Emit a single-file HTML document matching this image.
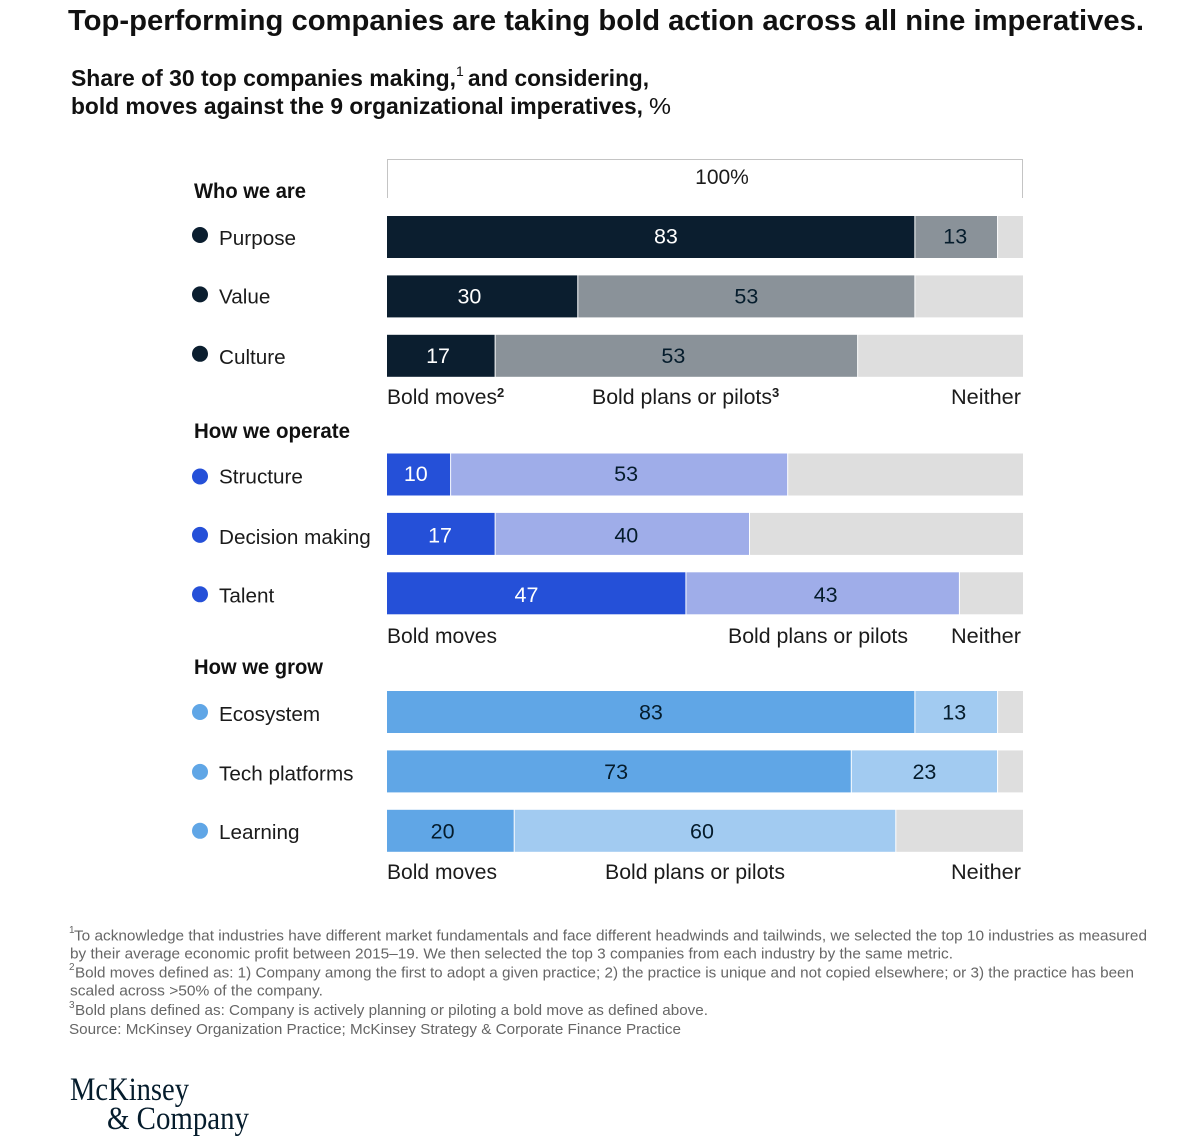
<!DOCTYPE html>
<html lang="en">
<head>
<meta charset="utf-8">
<title>Top-performing companies</title>
<style>
html,body{margin:0;padding:0;background:#fff;}
svg{display:block;font-family:"Liberation Sans",sans-serif;}
.t{fill:#111;}
.h{font-weight:700;font-size:21px;fill:#111;}
.l{font-size:20.7px;fill:#1b1b1b;}
.lg{font-size:21px;fill:#1b1b1b;}
.sup{font-size:13px;fill:#1b1b1b;}
.n{font-size:15px;fill:#666;}
.s{font-size:10px;fill:#666;}
.logo{font-family:"Liberation Serif",serif;font-size:33px;fill:#051c2c;}
</style>
</head>
<body>
<svg id="chart" width="1200" height="1141" viewBox="0 0 1200 1141" xmlns="http://www.w3.org/2000/svg">
  <rect width="1200" height="1141" fill="#fff"/>
  <text class="t" x="68" y="30" font-size="29" font-weight="700" textLength="1076" lengthAdjust="spacingAndGlyphs">Top-performing companies are taking bold action across all nine imperatives.</text>

  <g class="t">
    <text x="71" y="86" font-size="23" font-weight="700" textLength="385" lengthAdjust="spacingAndGlyphs">Share of 30 top companies making,</text>
    <text x="456" y="76" font-size="14">1</text>
    <text x="468" y="86" font-size="23" font-weight="700" textLength="181" lengthAdjust="spacingAndGlyphs">and considering,</text>
    <text x="71" y="114" font-size="23" font-weight="700" textLength="572" lengthAdjust="spacingAndGlyphs">bold moves against the 9 organizational imperatives,</text>
    <text x="649" y="114" font-size="23" textLength="22" lengthAdjust="spacingAndGlyphs">%</text>
  </g>

  <g>
    <path d="M387.5 198V159.5H1022.5V198" fill="none" stroke="#c4c4c4" stroke-width="1"/>
    <text class="lg" x="722" y="184" text-anchor="middle" font-size="22">100%</text>
  </g>

  <text class="h" x="194" y="198" textLength="112" lengthAdjust="spacingAndGlyphs">Who we are</text>
  <text class="h" x="194" y="438" textLength="156" lengthAdjust="spacingAndGlyphs">How we operate</text>
  <text class="h" x="194" y="674" textLength="129" lengthAdjust="spacingAndGlyphs">How we grow</text>

  <g id="rows"></g>

  <g>
    <text class="lg" x="387" y="404" textLength="110" lengthAdjust="spacingAndGlyphs">Bold moves</text>
    <text class="sup" x="497" y="397" font-weight="700">2</text>
    <text class="lg" x="592" y="404" textLength="180" lengthAdjust="spacingAndGlyphs">Bold plans or pilots</text>
    <text class="sup" x="772" y="397" font-weight="700">3</text>
    <text class="lg" x="951" y="404" textLength="70" lengthAdjust="spacingAndGlyphs">Neither</text>
  </g>
  <g>
    <text class="lg" x="387" y="643" textLength="110" lengthAdjust="spacingAndGlyphs">Bold moves</text>
    <text class="lg" x="728" y="643" textLength="180" lengthAdjust="spacingAndGlyphs">Bold plans or pilots</text>
    <text class="lg" x="951" y="643" textLength="70" lengthAdjust="spacingAndGlyphs">Neither</text>
  </g>
  <g>
    <text class="lg" x="387" y="879" textLength="110" lengthAdjust="spacingAndGlyphs">Bold moves</text>
    <text class="lg" x="605" y="879" textLength="180" lengthAdjust="spacingAndGlyphs">Bold plans or pilots</text>
    <text class="lg" x="951" y="879" textLength="70" lengthAdjust="spacingAndGlyphs">Neither</text>
  </g>

  <g>
    <text class="s" x="69" y="933">1</text>
    <text class="n" x="74" y="940.5" textLength="1073" lengthAdjust="spacingAndGlyphs">To acknowledge that industries have different market fundamentals and face different headwinds and tailwinds, we selected the top 10 industries as measured</text>
    <text class="n" x="70" y="958.5" textLength="883" lengthAdjust="spacingAndGlyphs">by their average economic profit between 2015–19. We then selected the top 3 companies from each industry by the same metric.</text>
    <text class="s" x="69" y="970">2</text>
    <text class="n" x="75" y="977.5" textLength="1059" lengthAdjust="spacingAndGlyphs">Bold moves defined as: 1) Company among the first to adopt a given practice; 2) the practice is unique and not copied elsewhere; or 3) the practice has been</text>
    <text class="n" x="70" y="995.5" textLength="253" lengthAdjust="spacingAndGlyphs">scaled across &gt;50% of the company.</text>
    <text class="s" x="69" y="1008">3</text>
    <text class="n" x="75" y="1015" textLength="633" lengthAdjust="spacingAndGlyphs">Bold plans defined as: Company is actively planning or piloting a bold move as defined above.</text>
    <text class="n" x="69" y="1034" textLength="612" lengthAdjust="spacingAndGlyphs">Source: McKinsey Organization Practice; McKinsey Strategy &amp; Corporate Finance Practice</text>
  </g>

  <g>
    <text class="logo" x="70" y="1100" textLength="119" lengthAdjust="spacingAndGlyphs">McKinsey</text>
    <text class="logo" x="107" y="1129" textLength="142" lengthAdjust="spacingAndGlyphs">&amp; Company</text>
  </g>
</svg>
<script>
const categories = ['Purpose', 'Value', 'Culture', 'Structure', 'Decision making', 'Talent', 'Ecosystem', 'Tech platforms', 'Learning'];
// Drawn segment lengths.
const boldMoves = [83, 30, 17, 10, 17, 47, 83, 73, 20];
const boldPlans = [13, 53, 57, 53, 40, 43, 13, 23, 60];
const neither = [4, 17, 26, 37, 43, 10, 4, 4, 20];
// Numbers printed on the bars. The source prints 53 on Culture although its bar spans 57.
const boldMovesPrinted = [83, 30, 17, 10, 17, 47, 83, 73, 20];
const boldPlansPrinted = [13, 53, 53, 53, 40, 43, 13, 23, 60];

const SVG_NS = 'http://www.w3.org/2000/svg';
const plotLeft = 387;
const plotWidth = 636;
const barHeight = 42;
const palettes = [
  { bold: '#0b1e2f', plan: '#8a9299', boldText: '#ffffff' },
  { bold: '#2550d8', plan: '#9fade9', boldText: '#ffffff' },
  { bold: '#60a6e6', plan: '#a2cbf1', boldText: '#051c2c' }
];
// Hand layout tweaks matching where the source places its labels, in px offsets.
const boldLabelNudge = [15, -13, -3, -3, -1, -10, 0, -3, -8];
const planLabelNudge = [-1, 0, -3, 7, 4, 3, -2, 0, -3];
const valueLabelShift = [-1, -0.5, -0.5, -1, 1, 1, 0, 0, 0];
const categoryLabelShift = [0, -1, 0, 1, 2, 1, 1, 1, 0];
const markerShift = [-2, -2, -2, 2, 1, 1, 0, 0.5, 0];

function xScale(v) { return plotLeft + v / 100 * plotWidth; }
function rowTop(i) { return 216 + Math.floor(i / 3) * 237.5 + (i % 3) * 59.4; }
function make(tag, attrs, parent) {
  const el = document.createElementNS(SVG_NS, tag);
  for (const k in attrs) el.setAttribute(k, attrs[k]);
  parent.appendChild(el);
  return el;
}

const rowsLayer = document.getElementById('rows');
categories.forEach(function (name, i) {
  const pal = palettes[Math.floor(i / 3)];
  const y = rowTop(i);
  const mid = y + barHeight / 2;
  const slug = name.toLowerCase().replace(/\s+/g, '-');

  const row = make('g', {}, rowsLayer);
  
  

  const dot = make('circle', { cx: 200, cy: mid + markerShift[i], r: 8, fill: pal.bold }, row);
  
  

  const label = make('text', { x: 219, y: mid + 8 + categoryLabelShift[i], class: 'l' }, row);
  
  
  label.textContent = name;

  const x0 = xScale(0);
  const x1 = xScale(boldMoves[i]);
  const x2 = xScale(boldMoves[i] + boldPlans[i]);
  const x3 = xScale(boldMoves[i] + boldPlans[i] + neither[i]);

  const barBold = make('rect', { x: x0, y: y, width: Math.max(0, x1 - x0 - 0.5), height: barHeight, fill: pal.bold }, row);
  
  

  const barPlan = make('rect', { x: x1 + 0.5, y: y, width: Math.max(0, x2 - x1 - 1), height: barHeight, fill: pal.plan }, row);
  
  

  const barNeither = make('rect', { x: x2 + 0.5, y: y, width: Math.max(0, x3 - x2 - 0.5), height: barHeight, fill: '#dedede' }, row);
  
  

  const valBold = make('text', { x: (x0 + x1) / 2 + boldLabelNudge[i], y: mid + 7.5 + valueLabelShift[i], 'text-anchor': 'middle', 'font-size': 21.5, fill: pal.boldText }, row);
  
  
  valBold.textContent = boldMovesPrinted[i];

  const valPlan = make('text', { x: (x1 + x2) / 2 + planLabelNudge[i], y: mid + 7.5 + valueLabelShift[i], 'text-anchor': 'middle', 'font-size': 21.5, fill: '#051c2c' }, row);
  
  
  valPlan.textContent = boldPlansPrinted[i];
});
</script>
</body>
</html>
